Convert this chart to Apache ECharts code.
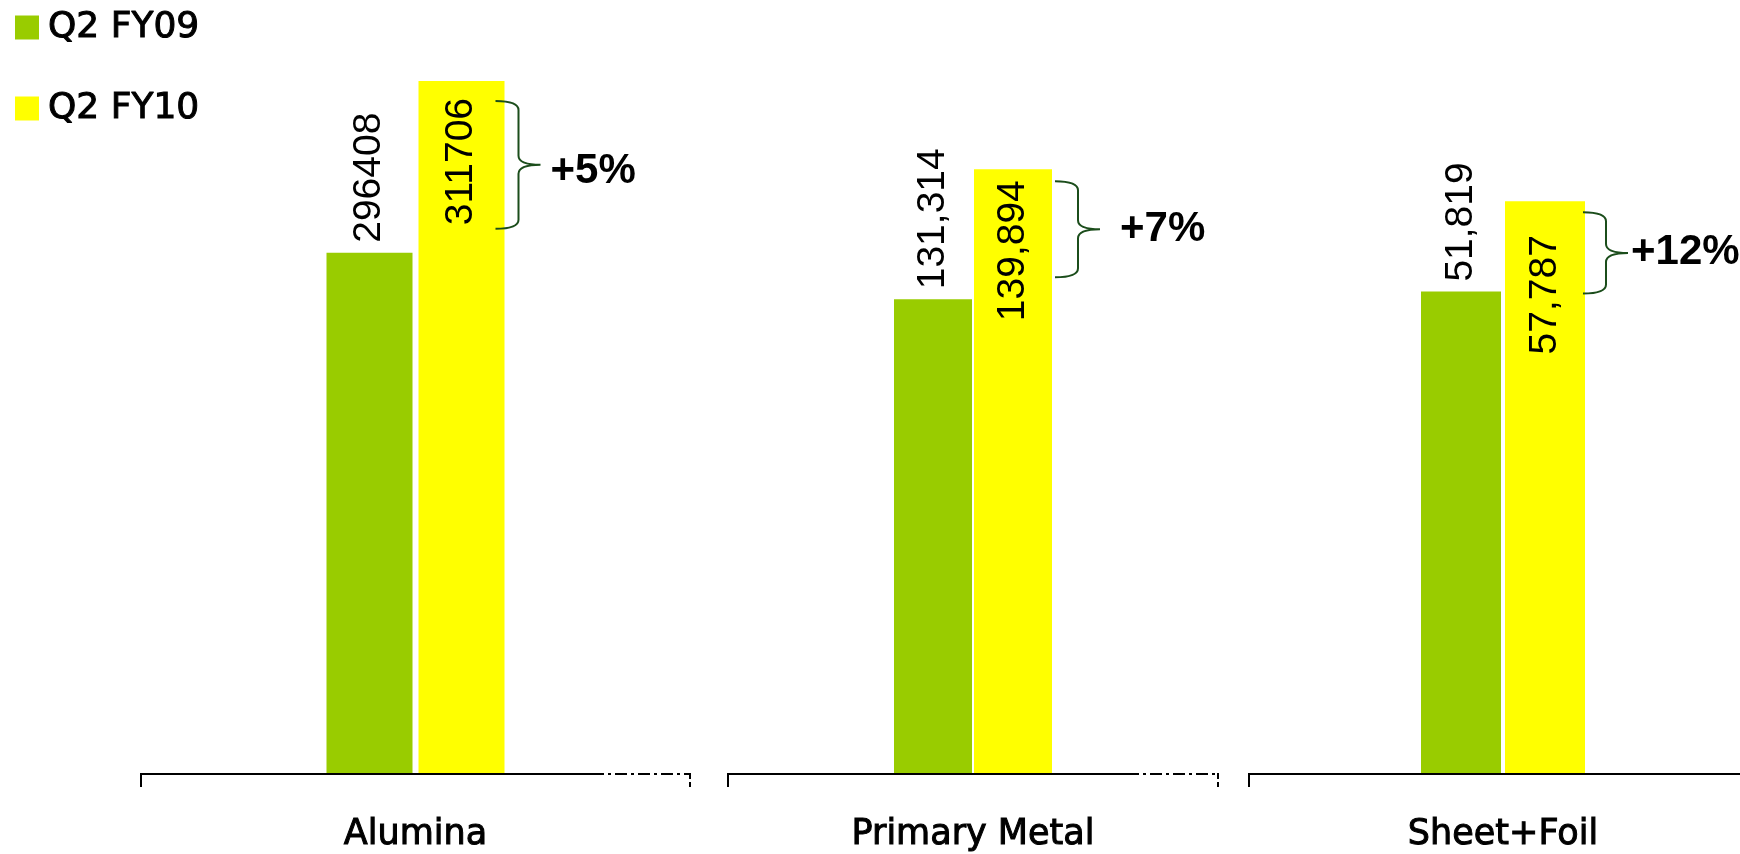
<!DOCTYPE html>
<html>
<head>
<meta charset="utf-8">
<title>Q2 FY09 vs Q2 FY10</title>
<script src="https://cdn.jsdelivr.net/npm/echarts@6/dist/echarts.min.js"></script>
<style>
  html, body { margin: 0; padding: 0; background: #fff; }
  #chart { width: 1740px; height: 854px; }
</style>
</head>
<body>
<div id="chart"></div>
<script>
// Production by segment, Q2 FY09 vs Q2 FY10
const categories = ['Alumina', 'Primary Metal', 'Sheet+Foil'];
const seriesNames = ['Q2 FY09', 'Q2 FY10'];
const fy09 = [296408, 131314, 51819];
const fy10 = [311706, 139894, 57787];
const fy09Labels = ['296408', '131,314', '51,819'];
const fy10Labels = ['311706', '139,894', '57,787'];
// each segment is drawn on its own value scale
const axisMin = [250000, 100000, 20000];
const axisMax = [317490, 150000, 70000];

const GREEN = '#99CC00';
const YELLOW = '#FFFF00';
const BRACE = '#1B4D1B';

// panel layout (pixels); lead extends the baseline left of the plot area
const panels = [
  { left: 141, width: 549, lead: 0, barWidth: 86, gap: 6, inset: 17, dashTail: 98, brace: { dx: -9, top: 20, bottom: 24, text: 10, dy: 7 } },
  { left: 728, width: 490, lead: 0, barWidth: 78, gap: 2, inset: 11, dashTail: 91, brace: { dx: 3, top: 12, bottom: 22, text: 20, dy: 0 } },
  { left: 1266, width: 474, lead: 17, barWidth: 80, gap: 4, inset: 34, dashTail: 0, brace: { dx: -2, top: 11, bottom: -2, text: 3, dy: 0 } }
];

const growth = fy09.map((v, i) => '+' + Math.round((fy10[i] / v - 1) * 100) + '%');

const grids = [], xAxes = [], yAxes = [], series = [];

panels.forEach((p, i) => {
  grids.push({ left: p.left, width: p.width, top: 16, bottom: 80 });
  xAxes.push({
    type: 'category', gridIndex: i, data: [categories[i]],
    axisLine: { show: false },
    axisTick: { show: false },
    axisLabel: {
      fontFamily: 'DejaVu Sans', fontSize: 35, color: '#000', margin: 43,
      textBorderColor: '#000', textBorderWidth: 1
    }
  });
  yAxes.push({ type: 'value', gridIndex: i, min: axisMin[i], max: axisMax[i], show: false });

  const gapPct = (p.gap / p.barWidth * 100) + '%';
  series.push({
    type: 'bar', name: seriesNames[0], xAxisIndex: i, yAxisIndex: i,
    data: [fy09[i]], barWidth: p.barWidth, barGap: gapPct,
    itemStyle: { color: GREEN },
    label: {
      show: true, position: 'top', rotate: 90, align: 'left', verticalAlign: 'middle', distance: 10,
      fontFamily: 'Liberation Sans, Arial, sans-serif', fontSize: 39, color: '#000',
      formatter: () => fy09Labels[i]
    }
  });
  series.push({
    type: 'bar', name: seriesNames[1], xAxisIndex: i, yAxisIndex: i,
    data: [fy10[i]], barWidth: p.barWidth, barGap: gapPct,
    itemStyle: { color: YELLOW },
    label: {
      show: true, position: 'insideTop', rotate: 90, align: 'right', verticalAlign: 'middle', distance: p.inset,
      fontFamily: 'Liberation Sans, Arial, sans-serif', fontSize: 39, color: '#000',
      formatter: () => fy10Labels[i]
    }
  });
  // baseline with end ticks, growth brace and growth label
  series.push({
    type: 'custom', name: 'growth-' + i, xAxisIndex: i, yAxisIndex: i,
    data: [[0, fy09[i], fy10[i]]],
    z: 5,
    renderItem: (params, api) => {
      const cs = params.coordSys;
      const baseY = cs.y + cs.height;
      const startX = cs.x - p.lead;
      const endX = cs.x + cs.width;
      const solidEnd = endX - p.dashTail;
      const line = (x1, y1, x2, y2, dash) => ({
        type: 'line', shape: { x1, y1, x2, y2 },
        style: { stroke: '#000', lineWidth: 2, lineDash: dash || null }
      });
      const children = [
        line(startX, baseY, solidEnd, baseY),
        line(startX, baseY - 1, startX, baseY + 13)
      ];
      if (p.dashTail > 0) {
        children.push(line(solidEnd, baseY, endX, baseY, [12, 4, 3, 4]));
        children.push(line(endX, baseY - 1, endX, baseY + 13, [6, 3]));
      }
      const lo = api.coord([api.value(0), api.value(1)]);
      const hi = api.coord([api.value(0), api.value(2)]);
      const cx = lo[0];
      const x0 = cx + p.gap / 2 + p.barWidth + p.brace.dx;
      const x1 = x0 + 23;
      const x2 = x1 + 22;
      const yT = hi[1] + p.brace.top;
      const yB = lo[1] - p.brace.bottom;
      const yM = (yT + yB) / 2;
      const r = 9;
      const d = [
        'M', x0, yT,
        'Q', x1, yT, x1, yT + r,
        'L', x1, yM - r,
        'Q', x1, yM, x2, yM,
        'Q', x1, yM, x1, yM + r,
        'L', x1, yB - r,
        'Q', x1, yB, x0, yB
      ].join(' ');
      children.push({ type: 'path', shape: { pathData: d },
        style: { stroke: BRACE, fill: 'none', lineWidth: 2 } });
      children.push({ type: 'text', style: {
        text: growth[i], x: x2 + p.brace.text, y: yM + p.brace.dy,
        font: 'bold 42px "Liberation Sans", Arial, sans-serif', fill: '#000',
        align: 'left', verticalAlign: 'middle' } });
      return { type: 'group', children };
    }
  });
});

const chart = echarts.init(document.getElementById('chart'), null, { renderer: 'canvas' });
chart.setOption({
  animation: false,
  backgroundColor: '#fff',
  legend: {
    data: seriesNames, orient: 'vertical', left: 15, top: 9, padding: 0,
    icon: 'rect', itemWidth: 24, itemHeight: 24, itemGap: 44,
    selectedMode: false,
    textStyle: {
      fontFamily: 'DejaVu Sans', fontSize: 36, color: '#000', padding: [0, 0, 0, 4],
      textBorderColor: '#000', textBorderWidth: 1
    }
  },
  grid: grids,
  xAxis: xAxes,
  yAxis: yAxes,
  series: series
});
</script>
</body>
</html>
